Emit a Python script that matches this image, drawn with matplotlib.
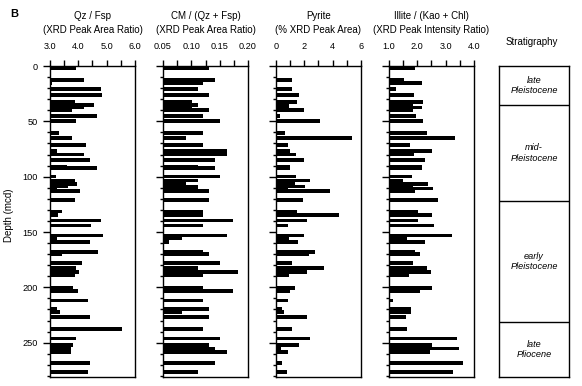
import matplotlib
matplotlib.use('agg')
import matplotlib.pyplot as plt
from matplotlib.ticker import MultipleLocator

plt.rcParams['font.family'] = ['Liberation Sans', 'DejaVu Sans']

# sample depths (mcd), shared by all four panels
depths = [1.5, 12.8, 15.5, 20.7, 26.4, 32.8, 35.2, 37.6, 40.0, 45.4, 50.0, 60.5, 64.8,
          71.7, 76.5, 79.9, 84.7, 90.7, 92.5, 99.8, 103.4, 106.4, 108.8, 110.6, 112.8,
          120.9, 131.5, 134.5, 139.6, 144.2, 153.2, 155.6, 159.3, 168.3, 170.1, 178.3,
          182.2, 186.4, 189.1, 200.9, 203.6, 211.8, 219.9, 222.1, 226.6, 237.5, 246.2,
          252.3, 255.3, 258.3, 268.3, 276.4]

qz_fsp = [3.92, 4.2, 3.06, 4.8, 4.85, 3.88, 4.55, 4.2, 3.76, 4.67, 3.92, 3.33, 3.78,
          4.27, 3.24, 4.2, 4.41, 3.59, 4.67, 3.21, 3.88, 3.96, 3.65, 3.26, 4.06,
          3.89, 3.42, 3.29, 4.81, 4.45, 4.88, 3.26, 4.41, 4.71, 3.42, 4.14,
          3.92, 4.04, 3.89, 3.82, 4.0, 4.35, 3.26, 3.36, 4.41, 5.55, 3.92,
          3.82, 3.73, 3.74, 4.41, 4.35]

cm_qzfsp = [0.132, 0.142, 0.121, 0.112, 0.132, 0.102, 0.112, 0.102, 0.132, 0.121, 0.151,
            0.121, 0.090, 0.121, 0.163, 0.163, 0.142, 0.112, 0.142, 0.151, 0.112, 0.090,
            0.112, 0.112, 0.132, 0.132, 0.121, 0.121, 0.173, 0.121, 0.163, 0.083, 0.061,
            0.121, 0.132, 0.151, 0.112, 0.182, 0.121, 0.121, 0.173, 0.121, 0.132, 0.083,
            0.132, 0.121, 0.151, 0.132, 0.142, 0.163, 0.142, 0.112]

pyrite = [0.0, 1.15, 0.1, 1.15, 1.65, 1.5, 0.94, 0.94, 2.0, 0.28, 3.13, 0.64, 5.39,
          0.87, 1.01, 1.41, 2.0, 0.99, 0.99, 1.41, 2.4, 1.34, 2.07, 0.87, 3.84,
          1.93, 1.5, 4.42, 2.16, 0.87, 2.0, 0.94, 1.58, 2.78, 2.35, 1.1,
          3.41, 2.16, 0.94, 1.34, 0.99, 0.87, 0.45, 0.59, 2.21, 1.15, 2.42,
          1.65, 0.35, 0.87, 0.45, 0.8]

illite = [1.92, 1.53, 2.15, 1.25, 1.89, 2.21, 1.85, 2.15, 1.86, 1.95, 2.21, 2.33, 3.34,
          1.75, 2.53, 1.89, 2.26, 2.18, 2.18, 1.82, 1.51, 2.39, 1.84, 2.56, 1.93,
          2.74, 2.04, 2.53, 2.04, 2.6, 3.24, 1.65, 2.28, 1.92, 2.11, 1.86,
          2.35, 2.48, 1.72, 2.53, 2.09, 1.15, 1.79, 1.79, 1.6, 1.65, 3.39,
          2.53, 3.48, 2.45, 3.62, 3.27]

strat_tops = [0, 35, 122, 231, 281]
strat_names = ['late\nPleistocene', 'mid-\nPleistocene', 'early\nPleistocene', 'late\nPliocene']

panels = [
    ('Qz / Fsp\n(XRD Peak Area Ratio)', qz_fsp, 3.0, 6.0, [3.0, 4.0, 5.0, 6.0],
     ['3.0', '4.0', '5.0', '6.0'], 0.5, 0.0859),
    ('CM / (Qz + Fsp)\n(XRD Peak Area Ratio)', cm_qzfsp, 0.05, 0.20, [0.05, 0.10, 0.15, 0.20],
     ['0.05', '0.10', '0.15', '0.20'], 0.025, 0.2801),
    ('Pyrite\n(% XRD Peak Area)', pyrite, 0.0, 6.0, [0, 2, 4, 6],
     ['0', '2', '4', '6'], 1.0, 0.4742),
    ('Illite / (Kao + Chl)\n(XRD Peak Intensity Ratio)', illite, 1.0, 4.0, [1.0, 2.0, 3.0, 4.0],
     ['1.0', '2.0', '3.0', '4.0'], 0.5, 0.6684),
]

fig = plt.figure(figsize=(5.82, 3.86), dpi=100)
bottom = 1 - 377 / 386.
height = (377 - 66) / 386.
fs = 6.6

for i, (title, vals, lo, hi, ticks, labels, minor, left) in enumerate(panels):
    ax = fig.add_axes([left, bottom, 0.146, height])
    ax.barh(depths, [v - lo for v in vals], left=lo, height=3.4, color='black')
    ax.set_xlim(lo, hi)
    ax.set_ylim(281, 0)
    ax.xaxis.tick_top()
    ax.set_xticks(ticks)
    ax.set_xticklabels(labels)
    ax.xaxis.set_minor_locator(MultipleLocator(minor))
    ax.yaxis.set_major_locator(MultipleLocator(50))
    ax.yaxis.set_minor_locator(MultipleLocator(10))
    ax.tick_params(axis='x', which='both', direction='out', length=4.5, width=1.0,
                   labelsize=fs, pad=6.5)
    ax.tick_params(axis='y', which='major', direction='out', length=5, width=1.0, labelsize=fs)
    ax.tick_params(axis='y', which='minor', direction='out', length=2.5, width=1.0)
    for s in ax.spines.values():
        s.set_linewidth(1.0)
    if i > 0:
        ax.set_yticklabels([])
    fig.text(left + 0.073, 1 - 23 / 386., title, ha='center', va='center',
             fontsize=fs + 0.4, linespacing=1.5)

fig.text(9 / 582., 1 - 215 / 386., 'Depth (mcd)', rotation=90, ha='center', va='center',
         fontsize=7)

# stratigraphy column
sax = fig.add_axes([499 / 582., bottom, 70 / 582., height])
sax.set_xlim(0, 1)
sax.set_ylim(281, 0)
sax.set_xticks([])
sax.set_yticks([])
for s in sax.spines.values():
    s.set_linewidth(1.0)
for k, name in enumerate(strat_names):
    if k > 0:
        sax.axhline(strat_tops[k], color='black', lw=1.0)
    mid = (strat_tops[k] + strat_tops[k + 1]) / 2.
    sax.text(0.5, mid, name, ha='center', va='center', fontsize=fs, style='italic',
             linespacing=1.2)
fig.text(532 / 582., 1 - 42 / 386., 'Stratigraphy', ha='center', va='center', fontsize=fs + 0.4)

fig.text(10 / 582., 1 - 14 / 386., 'B', ha='left', va='center', fontsize=8, weight='bold')

plt.savefig('out.png', dpi=100)
plt.close()
